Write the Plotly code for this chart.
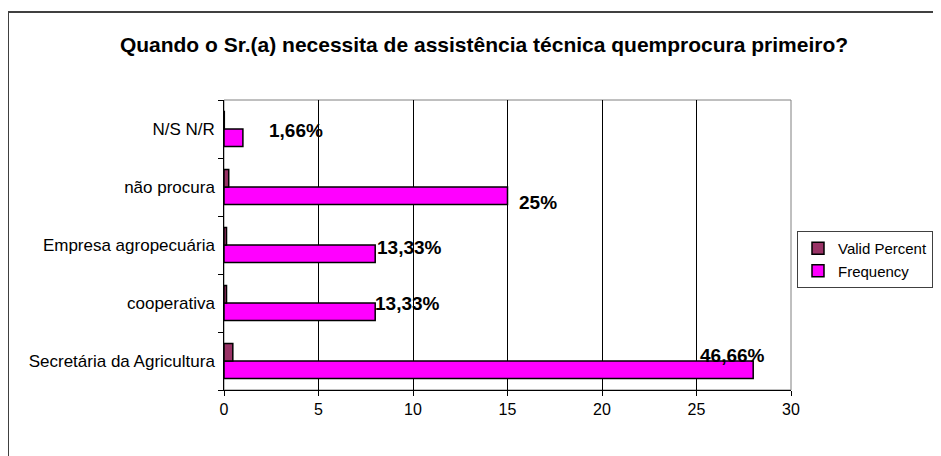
import plotly.graph_objects as go

categories = ["Secretária da Agricultura", "cooperativa", "Empresa agropecuária", "não procura", "N/S N/R"]
frequency = [28, 8, 8, 15, 1]
valid_percent = [0.4666, 0.1333, 0.1333, 0.25, 0.0166]
label_texts = ["46,66%", "13,33%", "13,33%", "25%", "1,66%"]
label_x = [26.9, 9.7, 9.8, 16.6, 3.8]
label_y = [0.1, 1.0, 1.95, 2.74, 3.97]

FONT = "Liberation Sans, Arial, sans-serif"

# page body has an 8px margin: figure pixel = window pixel - 8
L, T, PW, PH = 216, 92, 567, 290
W, H = 941, 456

fig = go.Figure()
fig.add_trace(go.Bar(
    y=categories, x=frequency, orientation="h", name="Frequency",
    marker=dict(color="#FF00FF", line=dict(color="#000000", width=1.5)),
))
fig.add_trace(go.Bar(
    y=categories, x=valid_percent, orientation="h", name="Valid Percent",
    marker=dict(color="#993366", line=dict(color="#000000", width=1.5)),
))

for t, x, y in zip(label_texts, label_x, label_y):
    fig.add_annotation(x=x, y=y, xref="x", yref="y", text="<b>" + t + "</b>",
                       showarrow=False, font=dict(family=FONT, size=19, color="#000000"))

# plot area border (grey) and outer chart border
fig.add_shape(type="rect", xref="paper", yref="paper", x0=0, x1=1, y0=0, y1=1,
              line=dict(color="#808080", width=1), layer="below")
fig.add_shape(type="rect", xref="paper", yref="paper",
              x0=(0 - L) / PW, x1=(980 - L) / PW,
              y0=(T + PH - 500) / PH, y1=(T + PH - 4) / PH,
              line=dict(color="#404040", width=2))

fig.update_layout(
    width=W, height=H,
    margin=dict(l=L, r=W - L - PW, t=T, b=H - T - PH, autoexpand=False),
    paper_bgcolor="white", plot_bgcolor="white",
    barmode="group", bargap=0.4, bargroupgap=0,
    font=dict(family=FONT, size=17, color="#000000"),
    title=dict(text="<b>Quando o Sr.(a) necessita de assistência técnica quemprocura primeiro?</b>",
               x=(484 - 8) / W, xanchor="center", y=1 - 37 / H, yanchor="middle",
               font=dict(family=FONT, size=21, color="#000000")),
    showlegend=True,
    legend=dict(x=(789 - L) / PW, xanchor="left", y=(T + PH - 223) / PH, yanchor="top",
                traceorder="reversed", bgcolor="white", bordercolor="#404040", borderwidth=1,
                font=dict(family=FONT, size=15), itemwidth=30, tracegroupgap=0),
    xaxis=dict(range=[0, 30], dtick=5, tick0=0, showgrid=True, gridcolor="#000000", gridwidth=1,
               showline=True, linecolor="#000000", linewidth=1, ticks="outside", ticklen=5,
               tickcolor="#000000", zeroline=False, tickfont=dict(size=16)),
    yaxis=dict(showgrid=False, showline=True, linecolor="#000000", linewidth=1,
               ticks="outside", ticklen=5, tickson="boundaries", tickcolor="#000000",
               tickfont=dict(size=17), ticksuffix=" "),
)

fig.write_html("out.html")
